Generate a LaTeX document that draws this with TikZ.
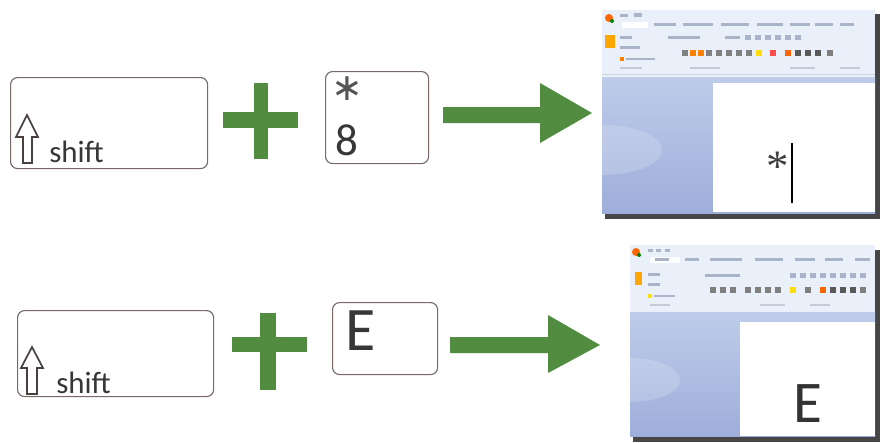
\documentclass[tikz,border=0pt]{standalone}
\usepackage{fontspec}
\setmainfont{Carlito}
\newfontfamily\serifasterisk{Liberation Serif}
\newfontfamily\dejavu{DejaVu Sans}
\definecolor{arrowgreen}{RGB}{82,140,64}
\definecolor{keyline}{RGB}{120,105,105}
\definecolor{keytext}{RGB}{55,55,55}
\definecolor{ribbon}{RGB}{234,240,249}
\definecolor{deskhi}{RGB}{190,204,234}
\definecolor{desklo}{RGB}{158,174,218}
\definecolor{shadowgrey}{RGB}{70,70,70}
\definecolor{tabgrey}{RGB}{170,180,200}
\begin{document}
\begin{tikzpicture}[x=0.025cm,y=-0.025cm,
  keybox/.style={draw=keyline, line width=0.8pt, rounded corners=5pt, fill=white, anchor=north west, inner sep=0pt},
  greenshape/.style={fill=arrowgreen, draw=none},
  shiftglyph/.style={draw=keyline!60!black, line width=1.2pt, line join=miter, fill=white},
  shifttext/.style={text=keytext, font=\fontsize{22}{22}\selectfont, anchor=base west, inner sep=0pt},
  keylabel/.style={text=keytext, inner sep=0pt},
  tabbar/.style={fill=tabgrey, draw=none},
  page/.style={fill=white, draw=none},
  shadow/.style={fill=shadowgrey, draw=none}]
\useasboundingbox (0,0) rectangle (880,442);
\fill[white] (0,0) rectangle (880,442);

% ---------- Row 1 ----------
\node[keybox, minimum width=4.925cm, minimum height=2.275cm] (shiftA) at (10,77) {};
\draw[shiftglyph] (23,163) -- (23,137) -- (16,137) -- (27,115) -- (38,137) -- (32,137) -- (32,163) -- cycle;
\node[shifttext] (shiftAtxt) at (49,162) {shift};

\fill[greenshape] (223,112) rectangle (298,128);
\fill[greenshape] (254,83) rectangle (268,159);

\node[keybox, minimum width=2.575cm, minimum height=2.3cm] (keyEight) at (325,71) {};
\node[keylabel, font=\dejavu\fontsize{27}{27}\selectfont, anchor=north, text=keytext!85] (astA) at (347,76) {∗};
\node[keylabel, font=\fontsize{32}{32}\selectfont] (eight) at (347,140) {8};

\fill[greenshape] (443,107) -- (540,107) -- (540,83) -- (592,113) -- (540,143) -- (540,123) -- (443,123) -- cycle;

% screenshot 1
\fill[shadow] (605,14) rectangle (880,219);
\fill[ribbon] (602,10) rectangle (875,77);
\shade[top color=deskhi, bottom color=desklo] (602,77) rectangle (875,213);
\fill[white, opacity=0.18] (602,150) ellipse (60 and 25);
\fill[page] (713,83) rectangle (875,212);
% ribbon detail
\fill[orange!80!red] (609,18) circle (4);
\fill[green!50!black] (612,21) circle (2);
\fill[tabgrey] (620,14) rectangle (628,17);
\fill[tabgrey] (634,13) rectangle (642,17);
\fill[white] (622,22) rectangle (648,28);
\foreach \x/\w in {654/22,683/30,721/28,757/26,790/20,815/18,840/14} {\fill[tabbar] (\x,23) rectangle ++(\w,3);}
\fill[orange!70!yellow] (605,35) rectangle (615,48);
\fill[tabgrey] (620,36) rectangle (632,39);
\fill[tabgrey] (620,46) rectangle (640,49);
\fill[orange] (620,57) rectangle (624,61);
\fill[tabgrey] (626,58) rectangle (655,60);
\fill[tabgrey] (668,36) rectangle (700,39);
\fill[tabgrey] (725,36) rectangle (740,39);
\foreach \x in {745,755,765,775,785,795} {\fill[tabgrey] (\x,35) rectangle ++(6,5);}
\foreach \x/\c in {682/gray,690/orange,698/orange,706/gray,716/gray,726/gray,736/gray,746/gray,756/yellow!80!orange,770/red!70,785/orange!80!red,795/gray!70!black,805/gray!70!black,815/gray!70!black,827/gray} {\fill[\c] (\x,50) rectangle ++(6,6);}
\foreach \x/\w in {620/22,690/30,790/25,840/20} {\fill[tabgrey!70] (\x,67) rectangle ++(\w,2);}
\draw[tabgrey!60] (602,74) -- (875,74);
\node[keylabel, font=\serifasterisk\fontsize{32}{32}\selectfont, text=black!75] (astScreen) at (778,167) {*};
\draw[black, line width=0.8pt] (792,143) -- (792,203);

% ---------- Row 2 ----------
\node[keybox, minimum width=4.9cm, minimum height=2.15cm] (shiftB) at (17,310) {};
\draw[shiftglyph] (27,394) -- (27,368) -- (21,368) -- (32,347) -- (43,368) -- (37,368) -- (37,394) -- cycle;
\node[shifttext] (shiftBtxt) at (56,393) {shift};

\fill[greenshape] (232,337) rectangle (307,352);
\fill[greenshape] (260,313) rectangle (276,390);

\node[keybox, minimum width=2.625cm, minimum height=1.8cm] (keyE) at (332,302) {};
\node[keylabel, font=\fontsize{44}{44}\selectfont] (eLetter) at (361,331) {E};

\fill[greenshape] (450,337) -- (548,337) -- (548,315) -- (600,345) -- (548,373) -- (548,353) -- (450,353) -- cycle;

% screenshot 2
\fill[shadow] (633,250) rectangle (880,442);
\fill[ribbon] (630,245) rectangle (875,312);
\shade[top color=deskhi, bottom color=desklo] (630,312) rectangle (875,436);
\fill[white, opacity=0.18] (630,380) ellipse (50 and 22);
\fill[page] (740,322) rectangle (875,436);
\fill[orange!80!red] (636,252) circle (4);
\fill[green!50!black] (639,255) circle (2);
\foreach \x in {648,656,665} {\fill[tabgrey] (\x,249) rectangle ++(5,3);}
\fill[white] (650,257) rectangle (680,263);
\foreach \x/\w in {655/14,685/14,710/32,755/28,795/20,825/18,855/15} {\fill[tabbar] (\x,258) rectangle ++(\w,3);}
\fill[orange!70!yellow] (635,272) rectangle (642,285);
\fill[tabgrey] (648,273) rectangle (660,276);
\fill[tabgrey] (648,283) rectangle (660,286);
\fill[yellow!80!orange] (648,294) rectangle (652,298);
\fill[tabgrey] (654,295) rectangle (675,297);
\fill[tabgrey] (705,274) rectangle (740,277);
\foreach \x in {790,800,810,820,830,840,850,860} {\fill[tabgrey] (\x,273) rectangle ++(6,5);}
\foreach \x/\c in {710/gray,720/gray,730/gray,745/gray,755/gray,765/gray,775/gray,790/yellow!80!orange,805/gray,820/orange!80!red,830/gray!70!black,840/gray!70!black,850/gray!70!black,860/gray} {\fill[\c] (\x,287) rectangle ++(6,6);}
\foreach \x/\w in {650/20,760/25,810/20} {\fill[tabgrey!70] (\x,304) rectangle ++(\w,2);}
\node[keylabel, font=\fontsize{42}{42}\selectfont, text=black!80] (eScreen) at (808,404) {E};
\end{tikzpicture}
\end{document}
